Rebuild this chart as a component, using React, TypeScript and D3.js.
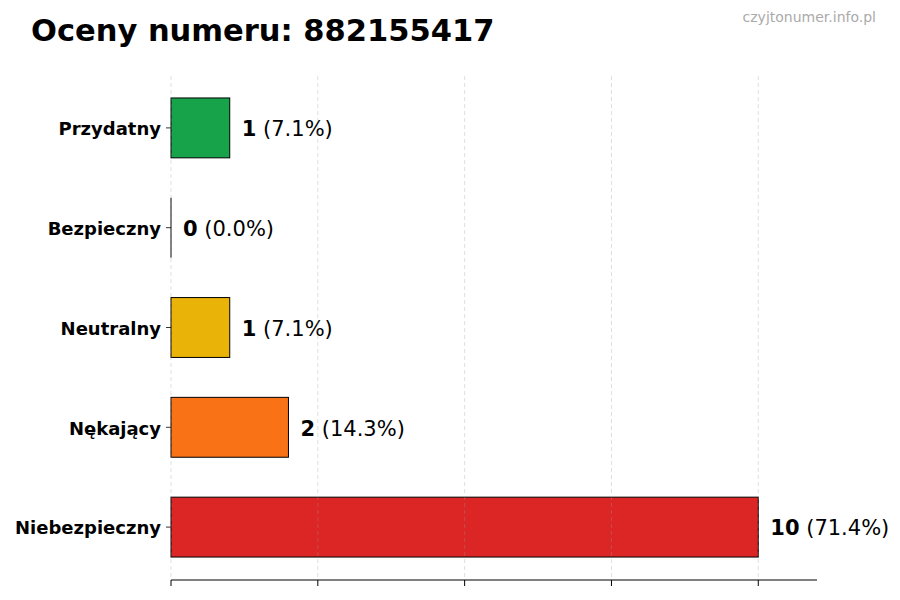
import React from 'react';
import * as d3 from 'd3';

const categories = ['Przydatny', 'Bezpieczny', 'Neutralny', 'Nękający', 'Niebezpieczny'];
const counts = [1, 0, 1, 2, 10];
const colours = ['#16a34a', '#2563eb', '#eab308', '#f97316', '#dc2626'];
const xTicks = [0, 2.5, 5, 7.5, 10];

const title = 'Oceny numeru: 882155417';
const watermark = 'czyjtonumer.info.pl';

const width = 900;
const height = 600;
const left = 171;
const right = 817;
const top = 76;
const bottom = 580;

const App: React.FC = () => {
  const total = d3.sum(counts);

  const x = d3.scaleLinear().domain([0, 11]).range([left, right]);
  const y = d3.scaleBand<string>()
    .domain(categories)
    .range([top + 2, bottom - 3])
    .paddingInner(0.4)
    .paddingOuter(0.2);

  return (
    <svg
      width={width}
      height={height}
      style={{ position: 'absolute', left: 0, top: 0, fontFamily: 'DejaVu Sans, sans-serif' }}
    >
      <rect width={width} height={height} fill="white" />

      {/* title + watermark */}
      <text x={31} y={41} fontSize={30.5} fontWeight="bold" fill="#000">{title}</text>
      <text x={876} y={22} fontSize={14} fill="#aaa" textAnchor="end">{watermark}</text>

      {/* bars */}
      {categories.map((c, i) => {
        const y0 = y(c) ?? 0;
        const bw = y.bandwidth();
        const v = counts[i];
        const pct = total ? (v / total) * 100 : 0;
        const cy = y0 + bw / 2 + 1;
        return (
          <g key={c}>
            {v > 0 ? (
              <rect
                x={x(0)} y={y0}
                width={x(v) - x(0)} height={bw}
                fill={colours[i]} stroke="#000" strokeWidth={1}
              />
            ) : (
              <line x1={x(0)} x2={x(0)} y1={y0} y2={y0 + bw} stroke="#000" strokeWidth={1} />
            )}
            <text x={x(v) + 12} y={cy} dy="0.35em" fontSize={21} fill="#000">
              <tspan fontWeight="bold">{v}</tspan>
              <tspan> ({pct.toFixed(1)}%)</tspan>
            </text>
            {/* y tick + label */}
            <line x1={left - 5} x2={left} y1={cy - 1} y2={cy - 1} stroke="#000" strokeWidth={0.8} />
            <text
              x={left - 10} y={cy} dy="0.35em"
              fontSize={18} fontWeight="bold" textAnchor="end" fill="#000"
            >
              {c}
            </text>
          </g>
        );
      })}

      {/* dashed grid, drawn over the bars */}
      {xTicks.map(t => (
        <line
          key={`g${t}`}
          x1={x(t)} x2={x(t)} y1={top} y2={bottom}
          stroke="#999" strokeOpacity={0.4} strokeWidth={0.8} strokeDasharray="4,3"
        />
      ))}

      {/* bottom axis */}
      <line x1={left} x2={right} y1={bottom} y2={bottom} stroke="#000" strokeWidth={1} />
      {xTicks.map(t => (
        <line key={`t${t}`} x1={x(t)} x2={x(t)} y1={bottom} y2={bottom + 6} stroke="#000" strokeWidth={1} />
      ))}
    </svg>
  );
};

export default App;
